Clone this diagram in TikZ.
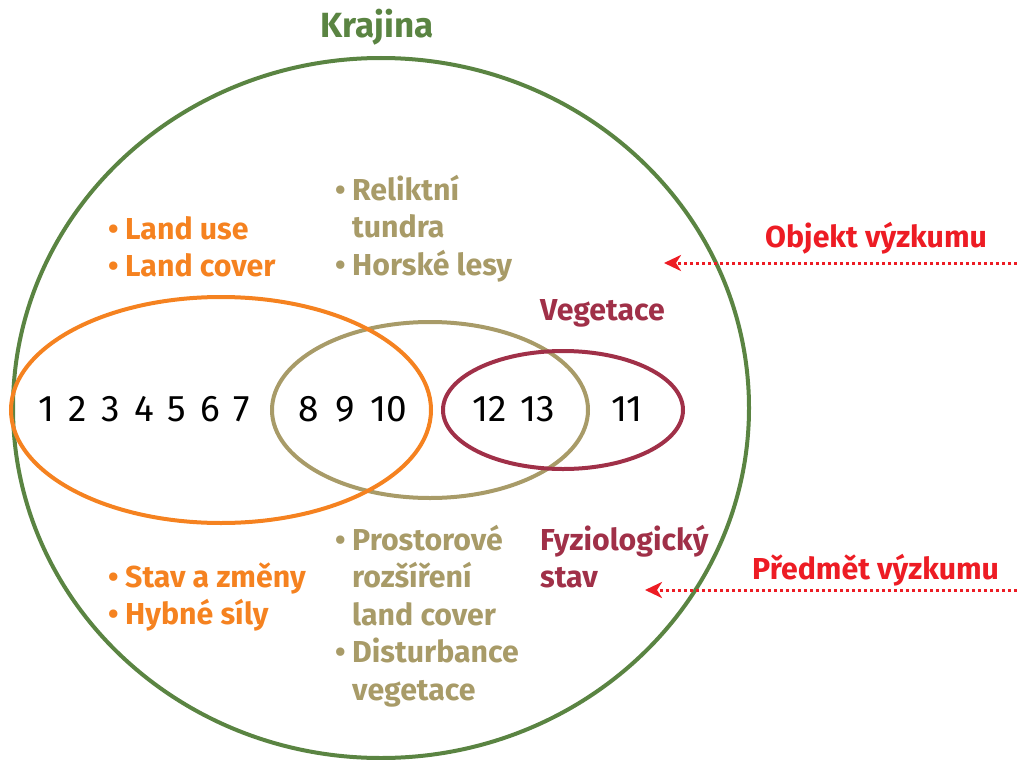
\documentclass[tikz,border=0pt]{standalone}
\usepackage{fontspec}
\setmainfont{Fira Sans}
\usetikzlibrary{arrows.meta}
\definecolor{kgreen}{RGB}{90,132,66}
\definecolor{korange}{RGB}{245,130,32}
\definecolor{ktan}{RGB}{168,155,104}
\definecolor{kcrimson}{RGB}{160,48,72}
\definecolor{kred}{RGB}{237,28,36}
\begin{document}
\begin{tikzpicture}[x=1pt,y=-1pt,
  ring/.style={line width=4pt},
  lbl/.style={font=\bfseries\fontsize{30.3}{37.5}\selectfont, anchor=base west, inner sep=0pt},
  num/.style={font=\fontsize{37}{37}\selectfont, anchor=base, inner sep=0pt},
  pointer/.style={kred, line width=3pt, dash pattern=on 3pt off 3pt,
    -{Stealth[length=17pt,width=16pt,inset=5pt]}}]
\useasboundingbox (0,0) rectangle (1017,760);
% rings
\draw[ring,kgreen] (381,408) ellipse [x radius=368pt, y radius=350pt];
\draw[ring,ktan] (430,410) ellipse [x radius=158pt, y radius=88pt];
\draw[ring,kcrimson] (563,410) ellipse [x radius=120pt, y radius=59pt];
\draw[ring,korange] (221,410) ellipse [x radius=210pt, y radius=113pt];
% title
\node[lbl, font=\bfseries\fontsize{35}{37}\selectfont, anchor=base, text=kgreen] (krajina) at (377,38) {Krajina};
% numbers
\foreach \x/\t [count=\i] in {47/1,78/2,111/3,144/4,177/5,210/6,242/7,309/8,345/9,389/10,490/12,538/13,627/11}
  \node[num] (n\i) at (\x,421) {\t};
% orange labels
\node[lbl, text=korange] (lu) at (108,239) {\begin{tabular}[t]{@{}p{17pt}@{}l@{}}\textbullet & Land use\\ \textbullet & Land cover\end{tabular}};
\node[lbl, text=korange] (sz) at (108,587) {\begin{tabular}[t]{@{}p{17pt}@{}l@{}}\textbullet & Stav a změny\\ \textbullet & Hybné síly\end{tabular}};
% tan labels
\node[lbl, text=ktan] (rt) at (335,200) {\begin{tabular}[t]{@{}p{17pt}@{}l@{}}\textbullet & Reliktní\\ & tundra\\ \textbullet & Horské lesy\end{tabular}};
\node[lbl, text=ktan] (pr) at (335,550) {\begin{tabular}[t]{@{}p{17pt}@{}l@{}}\textbullet & Prostorové\\ & rozšíření\\ & land cover\\ \textbullet & Disturbance\\ & vegetace\end{tabular}};
% crimson labels
\node[lbl, text=kcrimson] (veg) at (540,320) {Vegetace};
\node[lbl, text=kcrimson] (fyz) at (540,550) {\begin{tabular}[t]{@{}l@{}}Fyziologický\\ stav\end{tabular}};
% red labels and pointers
\node[lbl, text=kred] (obj) at (765,247) {Objekt výzkumu};
\node[lbl, text=kred] (pred) at (752,579) {Předmět výzkumu};
\coordinate (objR) at (1017,263);
\coordinate (objT) at (664,263);
\coordinate (predR) at (1017,590);
\coordinate (predT) at (645,590);
\draw[pointer] (objR) -- (objT);
\draw[pointer] (predR) -- (predT);
\end{tikzpicture}
\end{document}
